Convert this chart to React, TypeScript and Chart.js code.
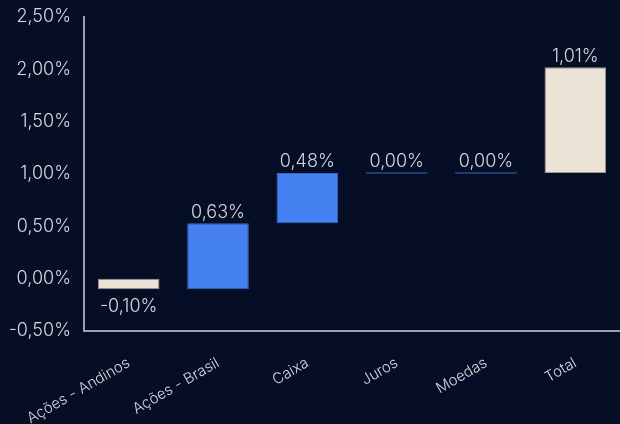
import React, { useEffect, useRef } from "react";
import { Chart, registerables } from "chart.js";

Chart.register(...registerables);

const categories = ["Ações - Andinos", "Ações - Brasil", "Caixa", "Juros", "Moedas", "Total"];
const deltas = [-0.1, 0.63, 0.48, 0.0, 0.0, 1.01];
const barStarts = [0.0, -0.1, 0.53, 1.01, 1.01, 1.01];
const barEnds = [-0.1, 0.53, 1.01, 1.01, 1.01, 2.02];
const yTicks = [-0.5, 0, 0.5, 1.0, 1.5, 2.0, 2.5];

const fmt = (v: number) => v.toFixed(2).replace(".", ",") + "%";

const BG = "#060e25";
const CREAM = "#ebe3d5";
const BLUE = "#4681f2";
const ZERO_LINE = "#1f3c72";
const TEXT = "#d6d8dd";
const FONT = "Inter, 'Noto Sans', sans-serif";

const colorFor = (i: number) => (i === 0 || i === categories.length - 1 ? CREAM : BLUE);

const labelPlugin = {
  id: "wfLabels",
  afterDatasetsDraw(chart: any) {
    const ctx = chart.ctx;
    const meta = chart.getDatasetMeta(0);
    ctx.save();
    ctx.font = `300 18px ${FONT}`;
    ctx.fillStyle = TEXT;
    ctx.textAlign = "center";
    meta.data.forEach((bar: any, i: number) => {
      const { x, y, base, width } = bar.getProps(["x", "y", "base", "width"], true);
      const top = Math.min(y, base);
      const bottom = Math.max(y, base);
      if (deltas[i] === 0) {
        ctx.fillStyle = ZERO_LINE;
        ctx.fillRect(x - width / 2, top - 1, width, 2);
        ctx.fillStyle = TEXT;
      }
      if (deltas[i] < 0) {
        ctx.textBaseline = "top";
        ctx.fillText(fmt(deltas[i]), x, bottom + 8);
      } else {
        ctx.textBaseline = "bottom";
        ctx.fillText(fmt(deltas[i]), x, top - 2);
      }
    });
    ctx.restore();
  },
};

export default function App() {
  const ref = useRef<HTMLCanvasElement | null>(null);
  useEffect(() => {
    document.body.style.margin = "0";
    document.body.style.background = BG;
    if (!ref.current) return;
    const chart = new Chart(ref.current, {
      type: "bar",
      data: {
        labels: categories,
        datasets: [
          {
            data: categories.map((_, i) => [barStarts[i], barEnds[i]]) as any,
            backgroundColor: categories.map((_, i) => colorFor(i)),
            borderColor: categories.map((_, i) => (colorFor(i) === CREAM ? "#9a9893" : "#3566c8")),
            borderWidth: 1,
            borderSkipped: false,
            barPercentage: 0.69,
            categoryPercentage: 1,
          },
        ],
      },
      options: {
        animation: false,
        responsive: false,
        maintainAspectRatio: false,
        layout: { padding: { top: 0, right: 0, left: 0, bottom: 0 } },
        plugins: { legend: { display: false }, tooltip: { enabled: false } },
        scales: {
          x: {
            grid: { display: false, drawTicks: false },
            border: { display: true, color: "#9ca0a8", width: 2 },
            afterFit: (axis: any) => {
              axis.height = 93;
              axis.paddingLeft = 0;
              axis.paddingRight = 0;
            },
            ticks: {
              color: TEXT,
              font: { family: FONT, size: 15, weight: "300" as any },
              maxRotation: 30,
              minRotation: 30,
              padding: 23,
            },
          },
          y: {
            min: -0.5,
            max: 2.5,
            afterBuildTicks: (axis: any) => {
              axis.ticks = yTicks.map((v) => ({ value: v }));
            },
            afterFit: (axis: any) => {
              axis.width = 84;
              axis.paddingTop = 17;
              axis.paddingBottom = 0;
            },
            grid: { display: false, drawTicks: false },
            border: { display: true, color: "#9ca0a8", width: 2 },
            ticks: {
              color: TEXT,
              font: { family: FONT, size: 18, weight: "300" as any },
              padding: 13,
              callback: (v: any) => fmt(Number(v)),
            },
          },
        },
      },
      plugins: [labelPlugin],
    });
    return () => chart.destroy();
  }, []);
  return (
    <div style={{ width: 620, height: 424, background: BG }}>
      <canvas ref={ref} width={620} height={424} style={{ display: "block" }} />
    </div>
  );
}
